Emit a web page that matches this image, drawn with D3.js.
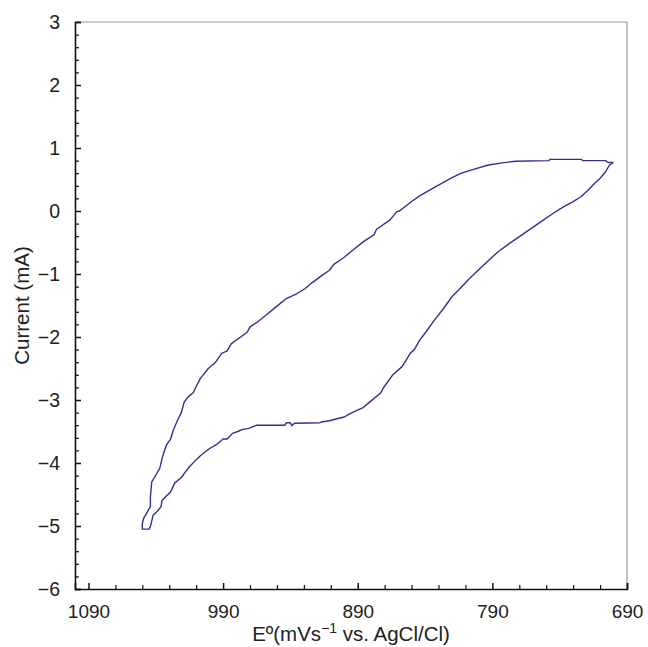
<!DOCTYPE html>
<html>
<head>
<meta charset="utf-8">
<script src="https://cdn.jsdelivr.net/npm/d3@7"></script>
<style>
  html, body { margin: 0; padding: 0; background: #fff; }
  svg { display: block; font-family: "Liberation Sans", Arial, sans-serif; }
</style>
</head>
<body>
<svg id="chart" width="648" height="647"></svg>
<script>
// Upper branch (from right vertex to left vertex)
const upperPotential = [700, 704, 706, 723, 724, 747, 748, 773, 784, 793, 804, 813, 820, 826, 835, 844, 850, 859, 861, 866, 876, 878, 886, 893, 901, 908, 911, 917, 924, 929, 935, 943, 950, 958, 965, 970, 972, 977, 984, 987, 991, 996, 1001, 1007, 1011, 1012, 1016, 1019, 1021, 1024, 1027, 1029, 1032, 1035, 1037, 1041, 1043, 1044, 1044, 1049, 1050, 1050];
const upperCurrent = [0.77, 0.77, 0.80, 0.80, 0.82, 0.82, 0.80, 0.79, 0.76, 0.73, 0.66, 0.60, 0.53, 0.46, 0.35, 0.24, 0.15, 0.00, -0.01, -0.14, -0.29, -0.38, -0.49, -0.61, -0.75, -0.85, -0.94, -1.03, -1.14, -1.23, -1.31, -1.39, -1.51, -1.65, -1.77, -1.84, -1.92, -2.00, -2.11, -2.22, -2.26, -2.41, -2.50, -2.66, -2.83, -2.88, -2.95, -3.04, -3.20, -3.33, -3.48, -3.62, -3.71, -3.90, -4.08, -4.23, -4.30, -4.53, -4.69, -4.88, -4.96, -5.05];
// Lower branch (from left vertex back to right vertex)
const lowerPotential = [1045, 1044, 1042, 1039, 1036, 1035.5, 1032, 1029, 1026, 1021, 1018, 1015, 1011, 1006, 1000, 995, 990, 987, 983, 979, 976, 971, 965, 944, 943, 940, 939, 937, 918, 917, 911, 904, 900, 896, 891, 886, 881, 873, 871, 864, 857, 851, 848, 844, 840, 834, 826, 820, 814, 807, 800, 793, 786, 777, 768, 760, 752, 745, 737, 730, 724, 719, 714, 710, 706, 703, 700];
const lowerCurrent = [-5.05, -5.01, -4.83, -4.77, -4.69, -4.60, -4.52, -4.46, -4.32, -4.23, -4.14, -4.06, -3.97, -3.87, -3.77, -3.71, -3.62, -3.62, -3.53, -3.50, -3.47, -3.45, -3.40, -3.40, -3.36, -3.36, -3.41, -3.37, -3.36, -3.35, -3.33, -3.29, -3.27, -3.22, -3.17, -3.12, -3.03, -2.89, -2.81, -2.60, -2.47, -2.26, -2.20, -2.05, -1.94, -1.76, -1.54, -1.36, -1.23, -1.07, -0.93, -0.79, -0.65, -0.51, -0.38, -0.26, -0.14, -0.04, 0.07, 0.15, 0.23, 0.33, 0.44, 0.52, 0.62, 0.73, 0.77];

const xTicks = [1090, 990, 890, 790, 690];
const yTicks = [3, 2, 1, 0, -1, -2, -3, -4, -5, -6];
const xTitle = "Eº(mVs";
const xTitleSup = "−1";
const xTitleRest = " vs. AgCl/Cl)";
const yTitle = "Current (mA)";

const svg = d3.select("#chart");
const mLeft = 75, mRight = 627, mTop = 22, mBottom = 589;

const x = d3.scaleLinear().domain([1100, 690]).range([mLeft, mRight]);
const y = d3.scaleLinear().domain([-6, 3]).range([mBottom, mTop]);

const fmt = d => (d < 0 ? "−" + Math.abs(d) : String(d));

// frame top & right
svg.append("line").attr("x1", mLeft).attr("x2", mRight).attr("y1", mTop).attr("y2", mTop)
  .attr("stroke", "#9a9a9a").attr("stroke-width", 1.2);
svg.append("line").attr("x1", mRight).attr("x2", mRight).attr("y1", mTop).attr("y2", mBottom)
  .attr("stroke", "#9a9a9a").attr("stroke-width", 1.2);

// minor ticks
const xMinor = d3.range(1090, 689, -20).filter(v => !xTicks.includes(v));
const yMinor = d3.range(-6, 3.001, 0.2).map(v => +v.toFixed(1)).filter(v => !yTicks.includes(v));

const gxMinor = svg.append("g").attr("transform", `translate(0,${mBottom})`)
  .call(d3.axisBottom(x).tickValues(xMinor).tickSize(-4).tickFormat(""));
gxMinor.select(".domain").remove();
gxMinor.selectAll(".tick line").attr("stroke", "#111").attr("stroke-width", 1.2);

const gyMinor = svg.append("g").attr("transform", `translate(${mLeft},0)`)
  .call(d3.axisLeft(y).tickValues(yMinor).tickSize(-4).tickFormat(""));
gyMinor.select(".domain").remove();
gyMinor.selectAll(".tick line").attr("stroke", "#111").attr("stroke-width", 1.2);

// major axes
const gx = svg.append("g").attr("transform", `translate(0,${mBottom})`)
  .call(d3.axisBottom(x).tickValues(xTicks).tickSize(-6).tickPadding(16).tickFormat(fmt));
gx.select(".domain").attr("stroke", "#111").attr("stroke-width", 1.6);
gx.selectAll(".tick line").attr("stroke", "#111").attr("stroke-width", 1.5);
gx.selectAll(".tick text").attr("font-size", 19).attr("fill", "#222")
  .attr("font-family", "Liberation Sans, Arial, sans-serif");

const gy = svg.append("g").attr("transform", `translate(${mLeft},0)`)
  .call(d3.axisLeft(y).tickValues(yTicks).tickSize(-6).tickPadding(15).tickFormat(fmt));
gy.select(".domain").attr("stroke", "#111").attr("stroke-width", 1.6);
gy.selectAll(".tick line").attr("stroke", "#111").attr("stroke-width", 1.5);
gy.selectAll(".tick text").attr("font-size", 19.5).attr("fill", "#222")
  .attr("font-family", "Liberation Sans, Arial, sans-serif");

// curve
const pts = upperPotential.map((e, i) => [e, upperCurrent[i]])
  .concat(lowerPotential.map((e, i) => [e, lowerCurrent[i]]));
const line = d3.line().x(d => x(d[0])).y(d => y(d[1]));
svg.append("path").datum(pts).attr("d", line)
  .attr("fill", "none").attr("stroke", "#2e3192").attr("stroke-width", 1.4)
  .attr("stroke-linejoin", "round");

// titles
const xt = svg.append("text").attr("x", (mLeft + mRight) / 2).attr("y", 641)
  .attr("text-anchor", "middle").attr("font-size", 20.5).attr("fill", "#222");
xt.append("tspan").text(xTitle);
xt.append("tspan").attr("dy", -8).attr("font-size", 14).text(xTitleSup);
xt.append("tspan").attr("dy", 8).text(xTitleRest);

svg.append("text").attr("transform", `translate(29,${(mTop + mBottom) / 2}) rotate(-90)`)
  .attr("text-anchor", "middle").attr("font-size", 20.5).attr("fill", "#222").text(yTitle);
</script>
</body>
</html>
